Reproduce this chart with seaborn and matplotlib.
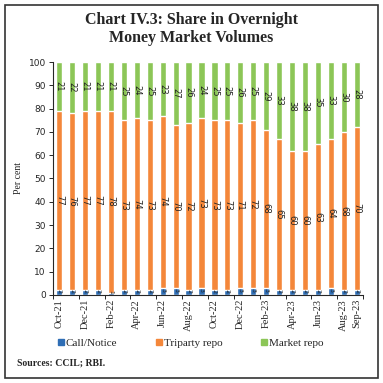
import matplotlib
matplotlib.use("Agg")
import matplotlib.pyplot as plt
import seaborn as sns
import pandas as pd
import numpy as np
from matplotlib.patches import Rectangle
from matplotlib.lines import Line2D

months = ["Oct-21", "Nov-21", "Dec-21", "Jan-22", "Feb-22", "Mar-22", "Apr-22", "May-22",
          "Jun-22", "Jul-22", "Aug-22", "Sep-22", "Oct-22", "Nov-22", "Dec-22", "Jan-23",
          "Feb-23", "Mar-23", "Apr-23", "May-23", "Jun-23", "Jul-23", "Aug-23", "Sep-23"]
call_notice = [2, 2, 2, 2, 1, 2, 2, 2, 3, 3, 2, 3, 2, 2, 3, 3, 3, 2, 2, 2, 2, 3, 2, 2]
triparty = [77, 76, 77, 77, 78, 73, 74, 73, 74, 70, 72, 73,
            73, 73, 71, 72, 68, 65, 60, 60, 63, 64, 68, 70]
market_repo = [21, 22, 21, 21, 21, 25, 24, 25, 23, 27, 26, 24,
               25, 25, 26, 25, 29, 33, 38, 38, 35, 33, 30, 28]
shown_ticks = ["Oct-21", "Dec-21", "Feb-22", "Apr-22", "Jun-22", "Aug-22", "Oct-22",
               "Dec-22", "Feb-23", "Apr-23", "Jun-23", "Aug-23", "Sep-23"]

c_call = "#2f6eb5"
c_tri = "#f4873a"
c_mkt = "#8cc657"

df = pd.DataFrame({"month": months, "call": call_notice, "tri": triparty, "mkt": market_repo})
df["cum_tri"] = df["call"] + df["tri"]
df["cum_mkt"] = df["cum_tri"] + df["mkt"]

sns.set_style("ticks")
plt.rcParams["font.family"] = ["Liberation Serif", "DejaVu Serif"]

fig = plt.figure(figsize=(3.83, 3.83), dpi=100)
ax = fig.add_axes([0.138, 0.23, 0.81, 0.608])

# stacked bars: draw cumulative totals from back to front
sns.barplot(data=df, x="month", y="cum_mkt", color=c_mkt, width=0.48, saturation=1, ax=ax)
sns.barplot(data=df, x="month", y="cum_tri", color=c_tri, width=0.48, saturation=1, ax=ax)
sns.barplot(data=df, x="month", y="call", color=c_call, width=0.48, saturation=1, ax=ax)

lab_kw = dict(rotation=-90, ha="center", va="center", fontsize=6,
              family="DejaVu Sans", color="#222222")
for i in range(len(months)):
    ax.text(i, df["call"][i] / 2 + 0.8, str(call_notice[i]), **dict(lab_kw, fontsize=4.5))
    ax.text(i, df["call"][i] + df["tri"][i] / 2, str(triparty[i]), **lab_kw)
    ax.text(i, df["cum_tri"][i] + df["mkt"][i] / 2, str(market_repo[i]), **lab_kw)

ax.set_xlim(-0.5, len(months) - 0.5)
ax.set_ylim(0, 100)
ax.set_yticks(np.arange(0, 101, 10))
ax.tick_params(axis="y", labelsize=6.5, length=3, width=0.7, pad=2)
for t in ax.get_yticklabels():
    t.set_family("DejaVu Sans")
ax.set_ylabel("Per cent", fontsize=7, labelpad=4)
ax.set_xlabel("")

pos = [months.index(m) for m in shown_ticks]
ax.set_xticks(pos)
ax.set_xticklabels(shown_ticks, rotation=90, fontsize=7.5)
ax.tick_params(axis="x", length=0, pad=3)
ax.set_xticks(np.arange(-0.5, len(months), 2), minor=True)
ax.tick_params(axis="x", which="minor", length=3, width=0.7)

for s in ["top", "right"]:
    ax.spines[s].set_visible(False)
for s in ["left", "bottom"]:
    ax.spines[s].set_linewidth(0.8)

handles = [Line2D([], [], marker="s", linestyle="", color=c, markersize=5)
           for c in [c_call, c_tri, c_mkt]]
fig.legend(handles, ["Call/Notice", "Triparty repo", "Market repo"],
           loc="center", bbox_to_anchor=(0.49, 0.105), ncol=3, frameon=False,
           fontsize=8, handletextpad=-0.4, handlelength=1.6, columnspacing=3.0)

fig.text(0.5, 0.925, "Chart IV.3: Share in Overnight\nMoney Market Volumes",
         ha="center", va="center", fontsize=11.5, fontweight="bold", linespacing=1.15)
fig.text(0.045, 0.052, "Sources: CCIL; RBI.", fontsize=7, fontweight="bold", va="center")

fig.patches.append(Rectangle((0.013, 0.013), 0.974, 0.974, transform=fig.transFigure,
                             fill=False, edgecolor="#333333", linewidth=1.2))

fig.savefig("out.png", dpi=100)
